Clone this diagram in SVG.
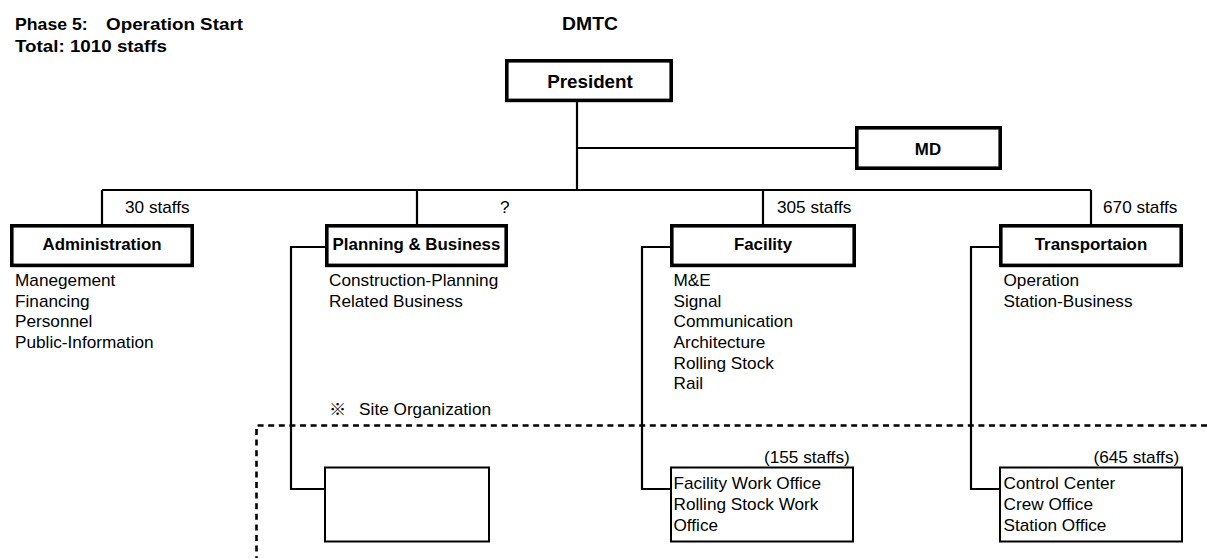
<svg xmlns="http://www.w3.org/2000/svg" width="1207" height="558" viewBox="0 0 1207 558">
  <style>
    text { font-family: "Liberation Sans", Arial, "Noto Sans CJK JP", sans-serif; fill: #000; }
    .hdr { font-size: 17px; font-weight: bold; }
    .lbl { font-size: 16px; font-weight: bold; text-anchor: middle;
           transform-box: fill-box; transform-origin: 50% 50%; transform: scaleX(1.055); }
    .big { font-size: 17.5px; font-weight: bold; text-anchor: middle;
           transform-box: fill-box; transform-origin: 50% 50%; transform: scaleX(1.075); }
    .txt { font-size: 16px;
           transform-box: fill-box; transform-origin: 0 50%; transform: scaleX(1.075); }
    .box { fill: #fff; stroke: #000; stroke-width: 3.6; }
    .sub { fill: #fff; stroke: #000; stroke-width: 2; }
    .ln  { fill: none; stroke: #000; stroke-width: 2.2; }
    .dash { fill: none; stroke: #000; stroke-width: 2.6; stroke-dasharray: 6 4.6; }
  </style>

  <!-- titles -->
  <g id="titles">
    <text class="hdr" x="15" y="30" textLength="72.7" lengthAdjust="spacingAndGlyphs">Phase 5:</text>
    <text class="hdr" x="106" y="30" textLength="137" lengthAdjust="spacingAndGlyphs">Operation Start</text>
    <text class="hdr" x="15" y="51.5" textLength="152" lengthAdjust="spacingAndGlyphs">Total: 1010 staffs</text>
    <text class="big" x="590" y="30.5" style="font-size:18px">DMTC</text>
  </g>

  <!-- connectors -->
  <g id="connectors">
    <!-- trunk from President -->
    <path class="ln" d="M577 102 V190"/>
    <path class="ln" d="M577 148 H856"/>
    <path class="ln" d="M102 190 H1091"/>
    <path class="ln" d="M102 190 V225 M417 190 V225 M763 190 V225 M1091 190 V225"/>
    <!-- site organization branches -->
    <path class="ln" d="M325 247 H291 V489 H325"/>
    <path class="ln" d="M671 247 H642 V489 H671"/>
    <path class="ln" d="M1000 247 H971 V489 H1000"/>
    <!-- site organization boundary -->
    <path class="dash" d="M1207 425.5 H256.5 V558"/>
  </g>

  <g id="president">
    <rect class="box" x="506.8" y="60.8" width="164.4" height="39.6"/>
    <text class="big" x="590" y="88">President</text>
  </g>

  <g id="md">
    <rect class="box" x="856.8" y="127.8" width="143.4" height="40.4"/>
    <text class="lbl" x="928" y="155">MD</text>
  </g>

  <g id="administration">
    <text class="txt" x="125" y="213">30 staffs</text>
    <rect class="box" x="11.8" y="225.8" width="180.4" height="39.6"/>
    <text class="lbl" x="102" y="250.5">Administration</text>
    <text class="txt" x="15" y="286">Manegement</text>
    <text class="txt" x="15" y="306.7">Financing</text>
    <text class="txt" x="15" y="327.4">Personnel</text>
    <text class="txt" x="15" y="348.1">Public-Information</text>
  </g>

  <g id="planning">
    <text class="txt" x="500" y="213">?</text>
    <rect class="box" x="326.8" y="225.8" width="179.4" height="39.6"/>
    <text class="lbl" x="416.5" y="250.5">Planning &amp; Business</text>
    <text class="txt" x="329" y="286">Construction-Planning</text>
    <text class="txt" x="329" y="306.7">Related Business</text>
  </g>

  <g id="facility">
    <text class="txt" x="777" y="213">305 staffs</text>
    <rect class="box" x="671.8" y="225.8" width="182.4" height="39.6"/>
    <text class="lbl" x="763" y="250.5">Facility</text>
    <text class="txt" x="673.5" y="286">M&amp;E</text>
    <text class="txt" x="673.5" y="306.7">Signal</text>
    <text class="txt" x="673.5" y="327.4">Communication</text>
    <text class="txt" x="673.5" y="348.1">Architecture</text>
    <text class="txt" x="673.5" y="368.8">Rolling Stock</text>
    <text class="txt" x="673.5" y="389.5">Rail</text>
  </g>

  <g id="transportation">
    <text class="txt" x="1103" y="213">670 staffs</text>
    <rect class="box" x="1000.8" y="225.8" width="180.4" height="39.6"/>
    <text class="lbl" x="1091" y="250.5">Transportaion</text>
    <text class="txt" x="1003.5" y="286">Operation</text>
    <text class="txt" x="1003.5" y="306.7">Station-Business</text>
  </g>

  <g id="site-note">
    <text class="txt" x="329" y="415"><tspan>※</tspan><tspan x="357">Site Organization</tspan></text>
  </g>

  <g id="planning-site">
    <rect class="sub" x="325" y="467.5" width="164" height="74"/>
  </g>

  <g id="facility-site">
    <text class="txt" x="764" y="463">(155 staffs)</text>
    <rect class="sub" x="671" y="467.5" width="182" height="74"/>
    <text class="txt" x="673.5" y="489">Facility Work Office</text>
    <text class="txt" x="673.5" y="510">Rolling Stock Work</text>
    <text class="txt" x="673.5" y="531">Office</text>
  </g>

  <g id="transportation-site">
    <text class="txt" x="1093.5" y="463">(645 staffs)</text>
    <rect class="sub" x="1000" y="467.5" width="182" height="74"/>
    <text class="txt" x="1003.5" y="489">Control Center</text>
    <text class="txt" x="1003.5" y="510">Crew Office</text>
    <text class="txt" x="1003.5" y="531">Station Office</text>
  </g>
</svg>
